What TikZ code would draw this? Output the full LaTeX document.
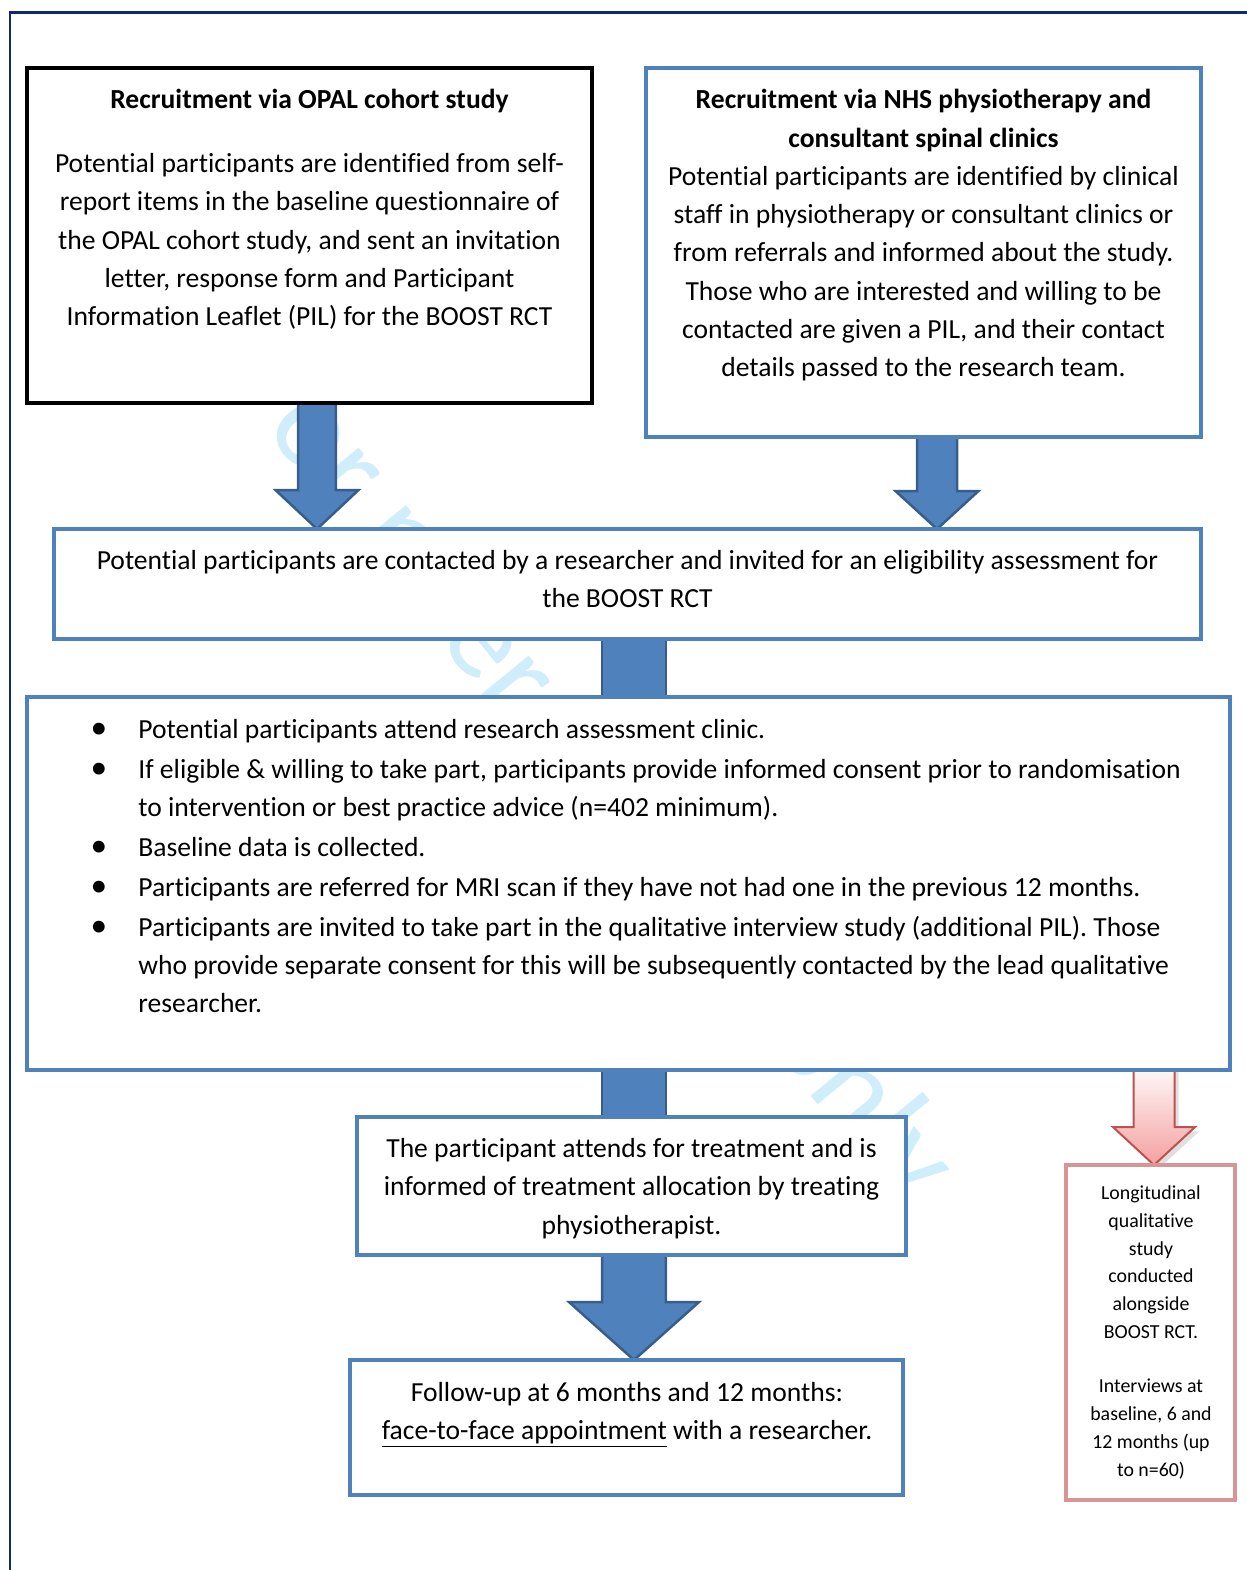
\documentclass[tikz,border=0pt]{standalone}
\usepackage{fontspec}
\setmainfont{Carlito}[Ligatures=NoCommon]
\usetikzlibrary{calc,backgrounds,shadows}
\definecolor{flowblue}{HTML}{4F81BD}
\definecolor{flowedge}{HTML}{385D8A}
\definecolor{framenavy}{HTML}{0E2A6E}
\definecolor{studypink}{HTML}{D99594}
\definecolor{studyred}{HTML}{C0504D}
\definecolor{studyfill}{HTML}{F4A0A0}
\definecolor{watermarkcyan}{HTML}{CFEDFA}

% block arrow: [style]{top point}{target anchor}{half shaft}{half head}{head length}
\newcommand{\flowarrow}[6][blockarrow]{%
  \draw[#1] let \p1=(#2), \p2=(#3) in
    (\x1-#4,\y1) -- (\x1-#4,\y2+#6) -- (\x1-#5,\y2+#6) -- (\x1,\y2)
    -- (\x1+#5,\y2+#6) -- (\x1+#4,\y2+#6) -- (\x1+#4,\y1) -- cycle;}
\newcommand{\bpoint}{\llap{{\fontsize{19}{21.8}\selectfont\textbullet}\hspace{0.62cm}}}

\begin{document}
\begin{tikzpicture}[
  x=0.02cm, y=-0.02cm,
  flowpanel/.style={draw=flowblue,line width=0.07cm,fill=white,
    inner sep=0pt,outer sep=0pt},
  opalpanel/.style={flowpanel,draw=black,line width=0.09cm},
  studypanel/.style={flowpanel,draw=studypink,line width=0.08cm},
  flowtext/.style={font=\fontsize{15.7}{21.8}\selectfont,align=center,
    inner sep=0pt,anchor=north},
  studytext/.style={flowtext,font=\fontsize{11.3}{15.9}\selectfont},
  blockarrow/.style={draw=flowedge,fill=flowblue,line width=0.05cm,
    line join=miter},
  studyarrow/.style={draw=studyred,top color=white,bottom color=studyfill,
    line width=0.04cm,line join=miter,drop shadow={opacity=0.25}},
  navyframe/.style={draw=framenavy,line width=0.06cm},
  watermark/.style={font=\fontsize{73}{80}\selectfont,text=watermarkcyan,
    rotate=-50.7,inner sep=0pt}
]
  \useasboundingbox (0,0) rectangle (1247,1570);
  \draw[navyframe] (10,1570) -- (10,12) -- (1247,12);

  % recruitment routes
  \node[opalpanel,minimum width=11.3cm,minimum height=6.7cm] (opal)
    at (309.5,235.5) {};
  \node[flowtext] (opaltext) at (309.5,89)
    {\textbf{Recruitment via OPAL cohort study}\\[14.5pt]
     Potential participants are identified from self-\\
     report items in the baseline questionnaire of\\
     the OPAL cohort study, and sent an invitation\\
     letter, response form and Participant\\
     Information Leaflet (PIL) for the BOOST RCT};
  \node[flowpanel,minimum width=11.1cm,minimum height=7.38cm] (nhs)
    at (923.5,252.5) {};
  \node[flowtext] (nhstext) at (923.5,89)
    {\textbf{Recruitment via NHS physiotherapy and}\\
     \textbf{consultant spinal clinics}\\
     Potential participants are identified by clinical\\
     staff in physiotherapy or consultant clinics or\\
     from referrals and informed about the study.\\
     Those who are interested and willing to be\\
     contacted are given a PIL, and their contact\\
     details passed to the research team.};

  % main trial pathway
  \node[flowpanel,minimum width=22.94cm,minimum height=2.2cm] (contact)
    at (627.5,584) {};
  \node[flowtext] (contacttext) at (627.5,550)
    {Potential participants are contacted by a researcher and invited for an eligibility assessment for\\
     the BOOST RCT};
  \node[flowpanel,minimum width=24.06cm,minimum height=7.46cm] (clinic)
    at (628.5,883.5) {};
  \node[flowtext,align=left,anchor=north west] (clinictext) at (138,719)
    {\bpoint Potential participants attend research assessment clinic.\\[0.9pt]
     \bpoint If eligible \& willing to take part, participants provide informed consent prior to randomisation\\
     to intervention or best practice advice (n=402 minimum).\\[0.9pt]
     \bpoint Baseline data is collected.\\[0.9pt]
     \bpoint Participants are referred for MRI scan if they have not had one in the previous 12 months.\\[0.9pt]
     \bpoint Participants are invited to take part in the qualitative interview study (additional PIL). Those\\
     who provide separate consent for this will be subsequently contacted by the lead qualitative\\
     researcher.};
  \node[flowpanel,minimum width=10.98cm,minimum height=2.76cm] (treat)
    at (631.5,1186) {};
  \node[flowtext] (treattext) at (631.5,1138)
    {The participant attends for treatment and is\\
     informed of treatment allocation by treating\\
     physiotherapist.};
  \node[flowpanel,minimum width=11.06cm,minimum height=2.7cm] (followup)
    at (626.5,1427.5) {};
  \node[flowtext] (followtext) at (627,1382)
    {Follow-up at 6 months and 12 months:\\
     \underline{face-to-face appointment} with a researcher.};

  % qualitative sub-study
  \node[studypanel,minimum width=3.4cm,minimum height=6.7cm] (quali)
    at (1150.5,1332.5) {};
  \node[studytext] (qualitext) at (1151,1185)
    {Longitudinal\\qualitative\\study\\conducted\\alongside\\BOOST RCT.\\[14.7pt]
     Interviews at\\baseline, 6 and\\12 months (up\\to n=60)};

  \begin{pgfonlayer}{background}
    \node[watermark] (peerreview) at (592,775) {For peer review only};
    \coordinate (opalfoot) at ($(opal.south)+(7.5,-10)$);
    \coordinate (nhsfoot) at ($(nhs.south)+(13.5,-10)$);
    \coordinate (treatfoot) at ($(treat.south)+(2.5,-10)$);
    \coordinate (studyfoot) at ($(clinic.south -| quali.north)+(3.5,-10)$);
    \flowarrow{opalfoot}{contact.north}{0.38cm}{0.83cm}{0.78cm}
    \flowarrow{nhsfoot}{contact.north}{0.40cm}{0.83cm}{0.76cm}
    \draw[blockarrow] ($(contact.south)+(-25.5,-10)$)
      rectangle ($(clinic.north)+(37.5,10)$);
    \draw[blockarrow] ($(clinic.south)+(-26.5,-10)$)
      rectangle ($(treat.north)+(34.5,10)$);
    \flowarrow{treatfoot}{followup.north}{0.64cm}{1.3cm}{1.16cm}
    \flowarrow[studyarrow]{studyfoot}{quali.north}{0.41cm}{0.82cm}{0.76cm}
  \end{pgfonlayer}
\end{tikzpicture}
\end{document}
